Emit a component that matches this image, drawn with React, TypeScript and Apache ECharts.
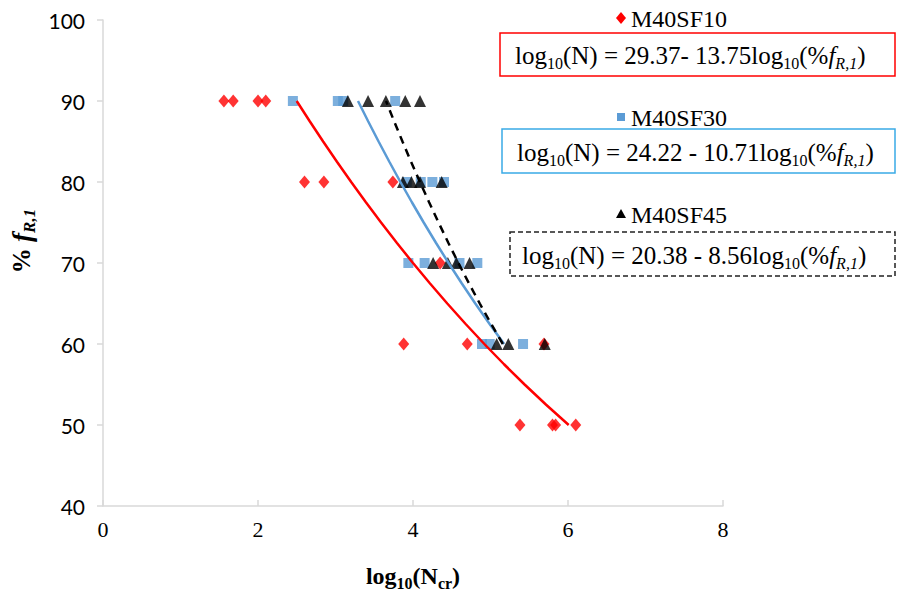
import React, { useEffect, useRef } from "react";
import * as echarts from "echarts";

// Measured points: [log10(Ncr), % fR,1]
const sf10Points: [number, number][] = [
  [1.56, 90], [1.68, 90], [2.0, 90], [2.1, 90],
  [2.6, 80], [2.85, 80], [3.74, 80],
  [4.35, 70],
  [3.88, 60], [4.7, 60], [5.69, 60],
  [5.38, 50], [5.8, 50], [5.84, 50], [6.1, 50],
];
const sf30Points: [number, number][] = [
  [2.45, 90], [3.03, 90], [3.1, 90], [3.77, 90],
  [3.92, 80], [4.1, 80], [4.25, 80], [4.4, 80],
  [3.94, 70], [4.15, 70], [4.6, 70], [4.83, 70],
  [4.89, 60], [4.99, 60], [5.42, 60],
];
const sf45Points: [number, number][] = [
  [3.16, 90], [3.42, 90], [3.65, 90], [3.9, 90], [4.09, 90],
  [3.87, 80], [3.98, 80], [4.09, 80], [4.37, 80],
  [4.26, 70], [4.45, 70], [4.56, 70], [4.73, 70],
  [5.08, 60], [5.23, 60], [5.7, 60],
];

// Fitted relations log10(N) = a - b * log10(%fR,1)
const seriesNames = ["M40SF10", "M40SF30", "M40SF45"];
const fitIntercepts = [29.37, 24.22, 20.38];
const fitSlopes = [13.75, 10.71, 8.56];
const fitRanges: [number, number][] = [[50, 90], [60, 90], [60, 90]];
const equationTexts = [
  "log{sub|10}(N) = 29.37- 13.75log{sub|10}(%{it|f}{itsub|R,1})",
  "log{sub|10}(N) = 24.22 - 10.71log{sub|10}(%{it|f}{itsub|R,1})",
  "log{sub|10}(N) = 20.38 - 8.56log{sub|10}(%{it|f}{itsub|R,1})",
];

const xTicks = [0, 2, 4, 6, 8];
const yTicks = [40, 50, 60, 70, 80, 90, 100];

const RED = "#ff0000";
const BLUE = "#5b9bd5";
const BLACK = "#000000";
const SERIF = "Liberation Serif";

function fitLine(i: number): [number, number][] {
  const [lo, hi] = fitRanges[i];
  const pts: [number, number][] = [];
  for (let y = lo; y <= hi + 1e-9; y += 2.5) {
    pts.push([fitIntercepts[i] - fitSlopes[i] * Math.log10(y), y]);
  }
  return pts;
}

const eqRich = {
  sub: { fontFamily: SERIF, fontSize: 16, lineHeight: 16, verticalAlign: "bottom", fill: "#000" },
  it: { fontFamily: SERIF, fontSize: 25, lineHeight: 32, fontStyle: "italic", fill: "#000" },
  itsub: { fontFamily: SERIF, fontSize: 16, lineHeight: 16, fontStyle: "italic", verticalAlign: "bottom", fill: "#000" },
};

function legendBlock(
  i: number,
  markerTop: number,
  marker: any,
  box: { x: number; y: number; w: number; h: number; stroke: string; dash?: number[] },
  eqX: number
) {
  return [
    marker,
    {
      type: "text",
      x: 631,
      y: markerTop + 1,
      style: {
        text: seriesNames[i],
        fontFamily: SERIF,
        fontSize: 24,
        fill: "#000",
        verticalAlign: "middle",
      },
    },
    {
      type: "rect",
      shape: { x: box.x, y: box.y, width: box.w, height: box.h },
      style: { fill: "none", stroke: box.stroke, lineWidth: 1.5, lineDash: box.dash },
    },
    {
      type: "text",
      x: eqX,
      y: box.y + box.h / 2 + 1,
      style: {
        text: equationTexts[i],
        rich: eqRich,
        fontFamily: SERIF,
        fontSize: 25,
        lineHeight: 32,
        fill: "#000",
        verticalAlign: "middle",
      },
    },
  ];
}

export default function App() {
  const ref = useRef<HTMLDivElement>(null);

  useEffect(() => {
    document.body.style.margin = "0";
    if (!ref.current) return;
    const chart = echarts.init(ref.current, undefined, { renderer: "svg" });

    const graphics = [
      ...legendBlock(
        0,
        18,
        {
          type: "polygon",
          shape: { points: [[621, 12], [626, 18], [621, 24], [616, 18]] },
          style: { fill: RED },
        },
        { x: 500, y: 33, w: 395, h: 43, stroke: RED },
        515
      ),
      ...legendBlock(
        1,
        117,
        {
          type: "rect",
          shape: { x: 617, y: 113, width: 8, height: 8 },
          style: { fill: BLUE },
        },
        { x: 502, y: 129, w: 393, h: 44, stroke: "#3aaae6" },
        517
      ),
      ...legendBlock(
        2,
        214,
        {
          type: "polygon",
          shape: { points: [[621, 209], [626, 218], [616, 218]] },
          style: { fill: BLACK },
        },
        { x: 510, y: 232, w: 385, h: 44, stroke: "#222", dash: [5, 3] },
        522
      ),
    ];

    chart.setOption({
      animation: false,
      backgroundColor: "#fff",
      grid: { left: 103, top: 20, width: 620, height: 486, outerBoundsMode: "none", containLabel: false },
      xAxis: {
        type: "value",
        min: xTicks[0],
        max: xTicks[xTicks.length - 1],
        interval: 2,
        name: "log{sub|10}(N{sub|cr})",
        nameLocation: "middle",
        nameGap: 55,
        nameTextStyle: {
          rich: {
            sub: { fontFamily: SERIF, fontSize: 16, fontWeight: "bold", lineHeight: 16, verticalAlign: "bottom" },
          },
          fontFamily: SERIF,
          fontSize: 24,
          fontWeight: "bold",
          lineHeight: 30,
          color: "#000",
        },
        axisLine: { lineStyle: { color: "#d9d9d9", width: 1.5 } },
        axisTick: { inside: true, length: 6, lineStyle: { color: "#d9d9d9", width: 1.5 } },
        axisLabel: { margin: 12, fontFamily: SERIF, fontSize: 22, color: "#000" },
        splitLine: { show: false },
      },
      yAxis: {
        type: "value",
        min: yTicks[0],
        max: yTicks[yTicks.length - 1],
        interval: 10,
        name: "% {it|f}{sub|R,1}",
        nameLocation: "middle",
        nameGap: 58,
        nameRotate: 90,
        nameTextStyle: {
          fontFamily: SERIF,
          fontSize: 25,
          fontWeight: "bold",
          lineHeight: 32,
          color: "#000",
          padding: [0, 0, 0, 44],
          rich: {
            it: { fontFamily: SERIF, fontSize: 27, fontWeight: "bold", fontStyle: "italic", lineHeight: 32 },
            sub: { fontFamily: SERIF, fontSize: 17, fontWeight: "bold", fontStyle: "italic", lineHeight: 17, verticalAlign: "bottom" },
          },
        },
        axisLine: { show: true, lineStyle: { color: "#d9d9d9", width: 1.5 } },
        axisTick: { show: true, inside: false, length: 6, lineStyle: { color: "#d9d9d9", width: 1.5 } },
        axisLabel: { margin: 18, fontFamily: "Lato", fontSize: 21, color: "#000" },
        splitLine: { show: false },
      },
      series: [
        {
          name: seriesNames[0],
          type: "scatter",
          data: sf10Points,
          symbol: "diamond",
          symbolSize: [11, 13],
          itemStyle: { color: RED },
        },
        {
          name: seriesNames[1],
          type: "scatter",
          data: sf30Points,
          symbol: "rect",
          symbolSize: 10,
          itemStyle: { color: BLUE },
        },
        {
          name: seriesNames[2],
          type: "scatter",
          data: sf45Points,
          symbol: "triangle",
          symbolSize: [12, 12],
          itemStyle: { color: BLACK },
        },
        {
          type: "line",
          data: fitLine(0),
          showSymbol: false,
          symbol: "none",
          lineStyle: { color: RED, width: 2.5 },
        },
        {
          type: "line",
          data: fitLine(1),
          showSymbol: false,
          symbol: "none",
          lineStyle: { color: BLUE, width: 2.5 },
        },
        {
          type: "line",
          data: fitLine(2),
          showSymbol: false,
          symbol: "none",
          lineStyle: { color: BLACK, width: 2.5, type: [8, 6] },
        },
      ],
      graphic: graphics,
    });

    return () => chart.dispose();
  }, []);

  return <div ref={ref} style={{ width: 897, height: 590 }} />;
}
